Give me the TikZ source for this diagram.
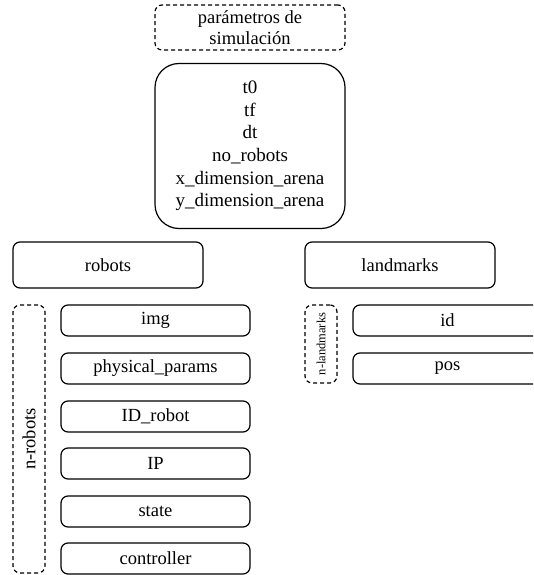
\documentclass[tikz,border=0pt]{standalone}
\usepackage{fontspec}
\setmainfont{Liberation Serif}
\begin{document}
\begin{tikzpicture}[x=1pt,y=-1pt,
  box/.style={draw, line width=1.2pt, rounded corners=7pt, inner sep=0pt, font=\fontsize{18.5}{21}\selectfont},
  dbox/.style={box, dashed, dash pattern=on 4pt off 3pt},
  bigbox/.style={box, rounded corners=24pt, align=center, font=\fontsize{19}{22.6}\selectfont}]
\useasboundingbox (0,0) rectangle (533,575);
\clip (0,0) rectangle (533,575);
\node[dbox, minimum width=190pt, minimum height=45pt, align=center, font=\fontsize{18.5}{21.5}\selectfont] (params) at (250,27.5) {parámetros de\\simulación};
\node[bigbox, minimum width=190pt, minimum height=165pt] (main) at (250,146) {t0\\tf\\dt\\no\_robots\\x\_dimension\_arena\\y\_dimension\_arena};
\node[box, minimum width=190pt, minimum height=46pt] (robots) at (108,265) {robots};
\node[box, minimum width=190pt, minimum height=46pt] (landmarks) at (400,265) {landmarks};
\node[dbox, minimum width=32pt, minimum height=268pt] (nrobots) at (29,439) {};
\node[rotate=90, font=\fontsize{18.5}{21}\selectfont] (nrobotslbl) at (nrobots.center) {n-robots};
\node[box, minimum width=189pt, minimum height=31pt] (img) at (155.5,320.5) {img};
\node[box, minimum width=189pt, minimum height=31pt] (phys) at (155.5,368.5) {physical\_params};
\node[box, minimum width=189pt, minimum height=31pt] (idr) at (155.5,416.5) {ID\_robot};
\node[box, minimum width=189pt, minimum height=31pt] (ip) at (155.5,463.5) {IP};
\node[box, minimum width=189pt, minimum height=31pt] (state) at (155.5,511.5) {state};
\node[box, minimum width=189pt, minimum height=31pt] (ctrl) at (155.5,558.5) {controller};
\node[dbox, minimum width=32pt, minimum height=78pt] (nland) at (321,344) {};
\node[rotate=90, font=\fontsize{12.5}{14}\selectfont] (nlandlbl) at (nland.center) {n-landmarks};
\node[box, minimum width=189pt, minimum height=31pt] (id) at (447.5,320.5) {id};
\node[box, minimum width=189pt, minimum height=31pt] (pos) at (447.5,368.5) {pos};
\end{tikzpicture}
\end{document}
